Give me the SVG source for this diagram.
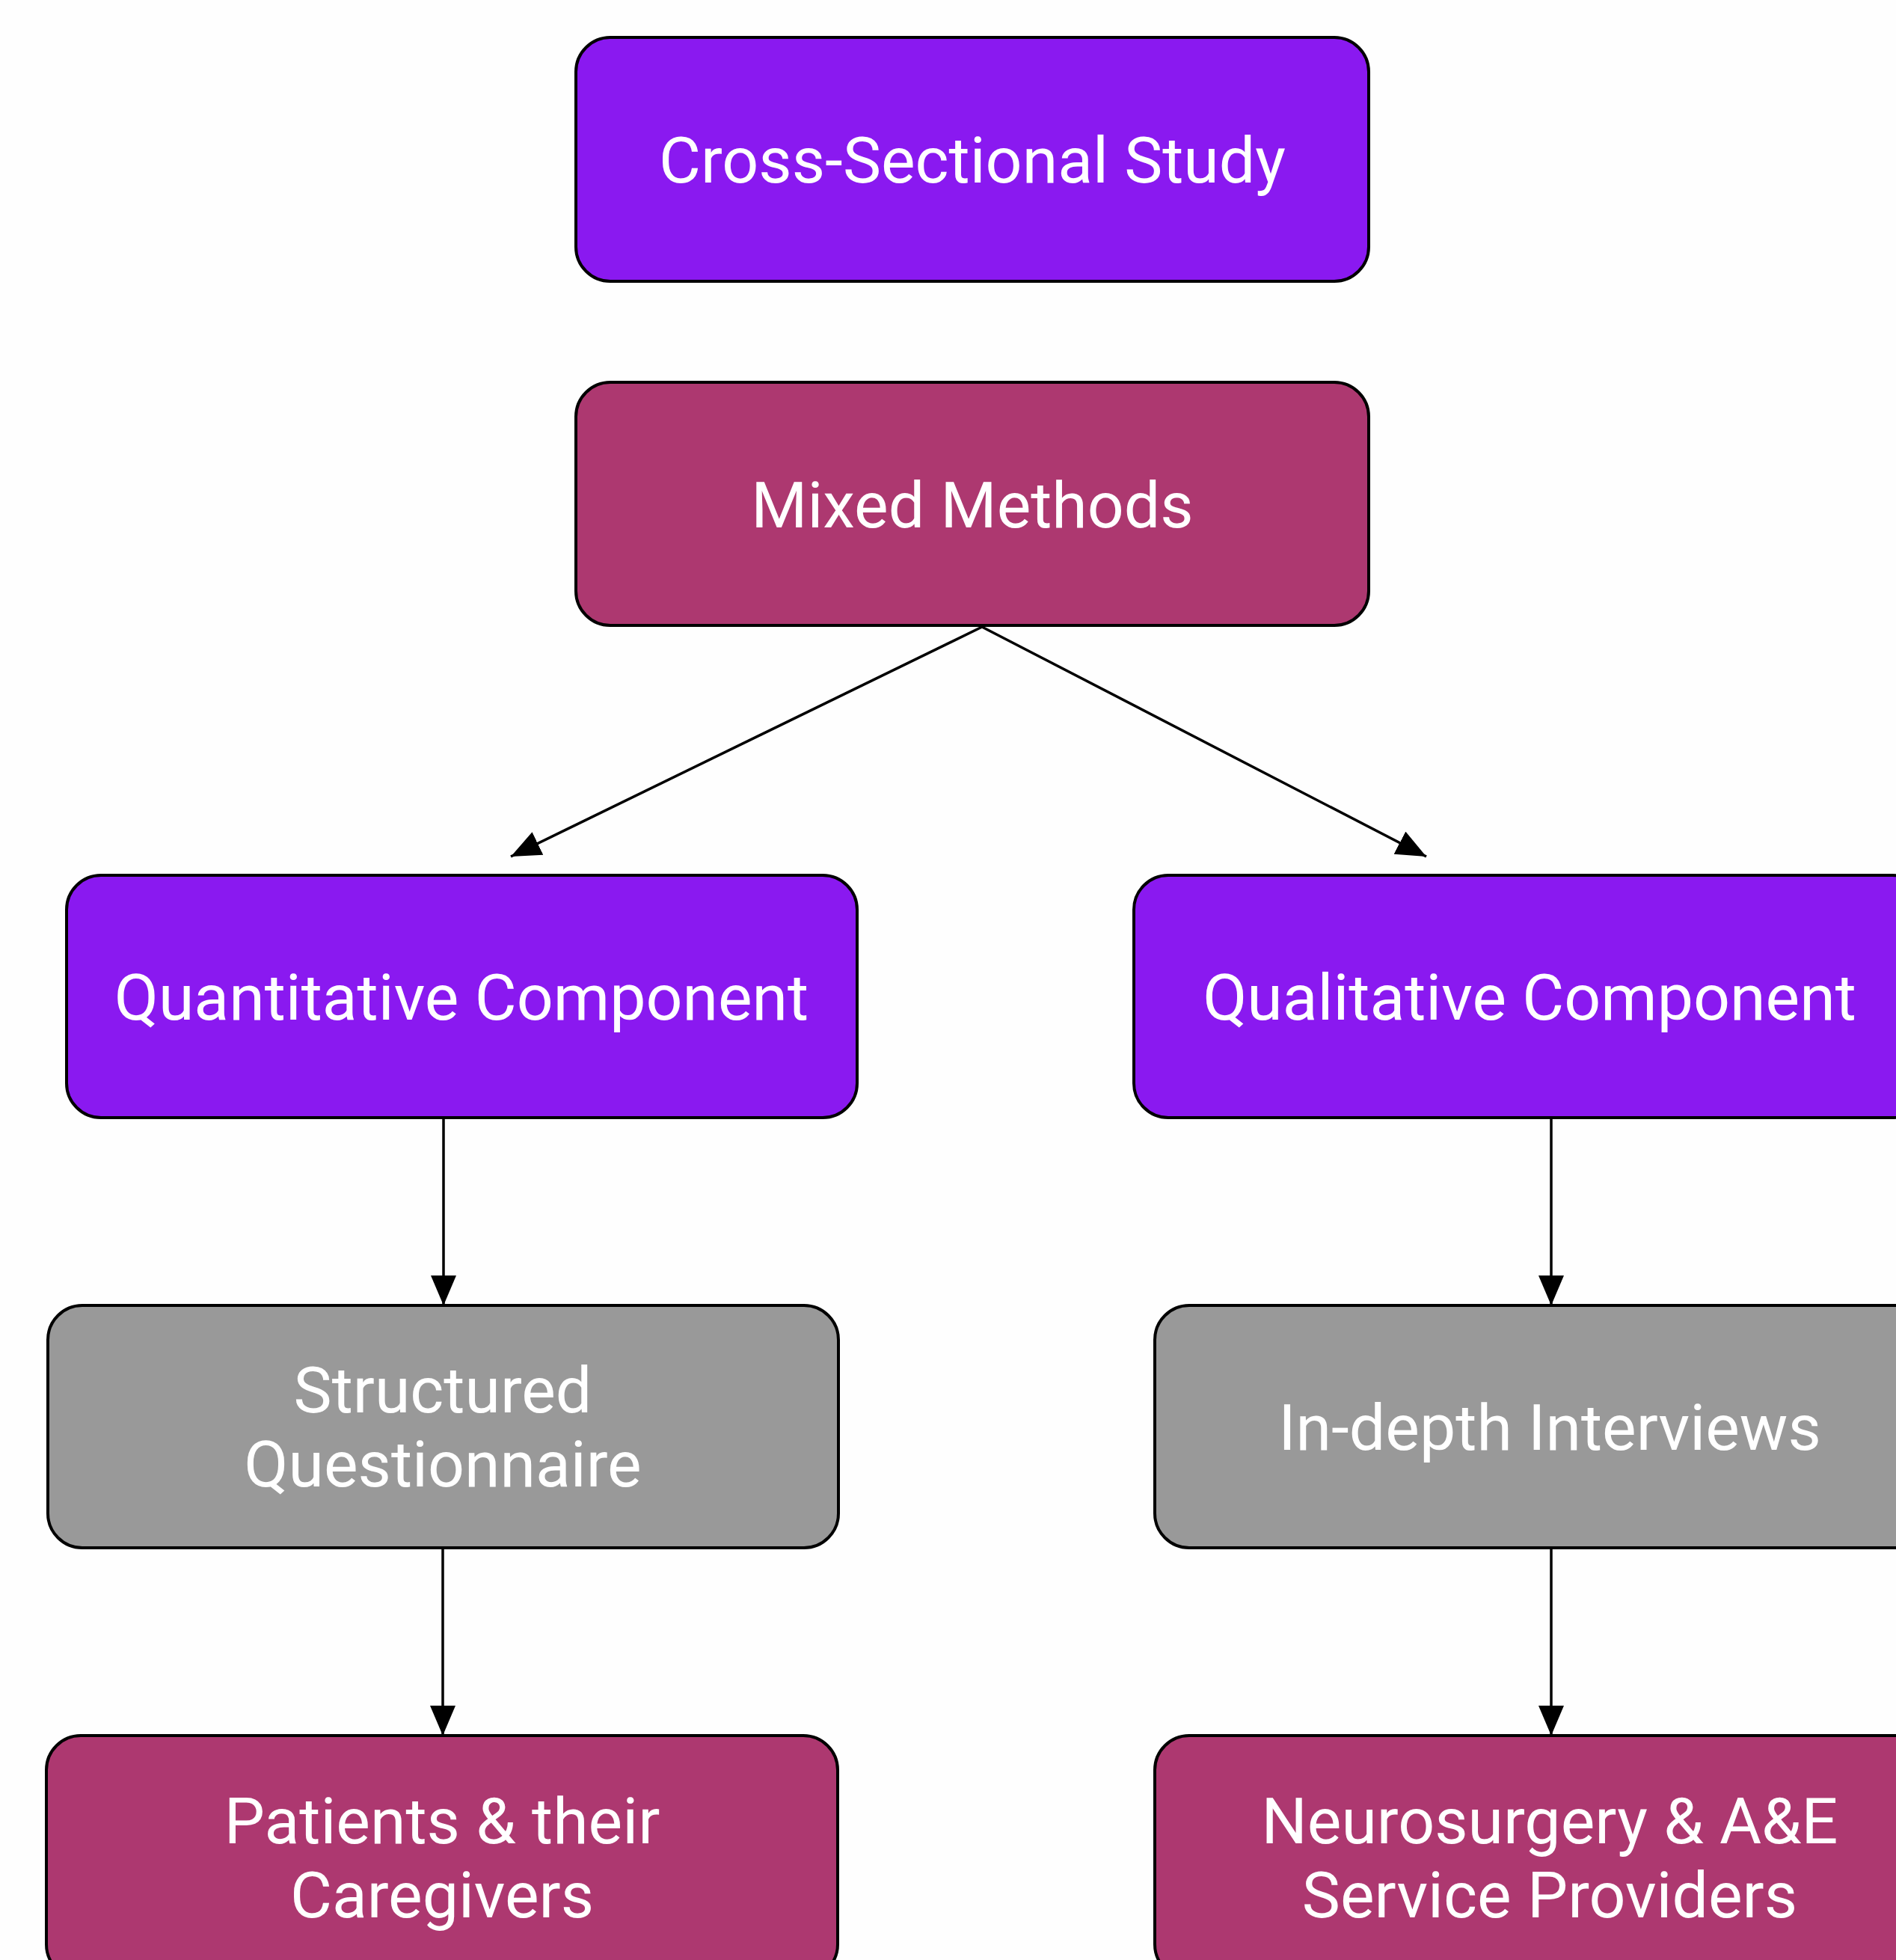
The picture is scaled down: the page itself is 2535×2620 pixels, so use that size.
<svg xmlns="http://www.w3.org/2000/svg" width="2535" height="2620" viewBox="0 0 2535 2620">
<defs>
<marker id="ah" markerUnits="userSpaceOnUse" markerWidth="40" markerHeight="34" refX="40" refY="17" orient="auto">
<path d="M0,0 L40,17 L0,34 z" fill="#000"/>
</marker>
<style>
.box{stroke:#000;stroke-width:4}
.purple{fill:#8A19F0}
.maroon{fill:#AD3870}
.gray{fill:#999999}
.lbl{font-family:Roboto,"Liberation Sans",sans-serif;font-size:86px;fill:#fff;text-anchor:middle}
.edge{stroke:#000;stroke-width:3.5;fill:none;marker-end:url(#ah)}
</style>
</defs>
<rect width="2535" height="2620" fill="#FEFEFE"/>
<g id="connectors">
<line class="edge" x1="1313" y1="838" x2="683" y2="1145"/>
<line class="edge" x1="1313" y1="838" x2="1907" y2="1145"/>
<line class="edge" x1="593" y1="1494" x2="593" y2="1745"/>
<line class="edge" x1="592" y1="2069" x2="592" y2="2320"/>
<line class="edge" x1="2074" y1="1494" x2="2074" y2="1745"/>
<line class="edge" x1="2074" y1="2069" x2="2074" y2="2320"/>
</g>
<g id="cross">
<rect class="box purple" x="770" y="50" width="1060" height="326" rx="46"/>
<text class="lbl" x="1300" y="244">Cross-Sectional Study</text>
</g>
<g id="mixed">
<rect class="box maroon" x="770" y="511" width="1060" height="325" rx="46"/>
<text class="lbl" x="1300" y="705">Mixed Methods</text>
</g>
<g id="quant">
<rect class="box purple" x="89" y="1170" width="1057" height="324" rx="46"/>
<text class="lbl" x="617" y="1363">Quantitative Component</text>
</g>
<g id="qual">
<rect class="box purple" x="1516" y="1170" width="1060" height="324" rx="46"/>
<text class="lbl" x="2045" y="1363">Qualitative Component</text>
</g>
<g id="structured">
<rect class="box gray" x="64" y="1745" width="1057" height="324" rx="46"/>
<text class="lbl" x="592" y="1888">Structured</text>
<text class="lbl" x="592" y="1987">Questionnaire</text>
</g>
<g id="indepth">
<rect class="box gray" x="1544" y="1745" width="1060" height="324" rx="46"/>
<text class="lbl" x="2072" y="1938">In-depth Interviews</text>
</g>
<g id="patients">
<rect class="box maroon" x="62" y="2320" width="1058" height="325" rx="46"/>
<text class="lbl" x="591" y="2464">Patients &amp; their</text>
<text class="lbl" x="591" y="2563">Caregivers</text>
</g>
<g id="neuro">
<rect class="box maroon" x="1544" y="2320" width="1060" height="325" rx="46"/>
<text class="lbl" x="2072" y="2464">Neurosurgery &amp; A&amp;E</text>
<text class="lbl" x="2072" y="2563">Service Providers</text>
</g>
</svg>
